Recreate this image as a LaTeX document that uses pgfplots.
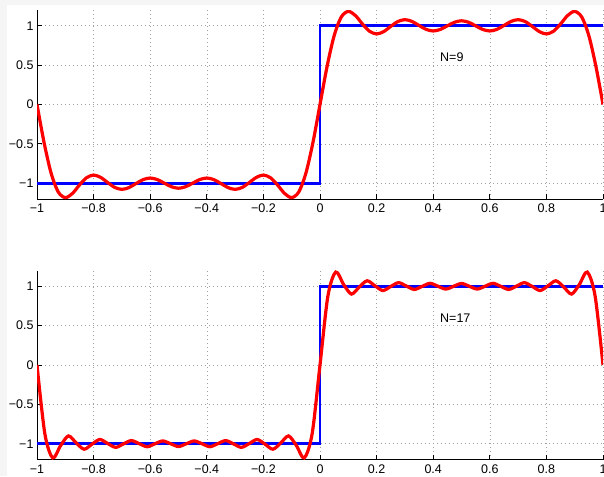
\documentclass[border=0pt]{standalone}
\usepackage{fontspec}
\setmainfont{Liberation Sans}
\usepackage{pgfplots}
\pgfplotsset{compat=1.18}
\pgfplotsset{
  fourier/.style={
    scale only axis, width=566pt, height=189pt,
    xmin=-1, xmax=1, ymin=-1.2, ymax=1.2,
    axis lines*=left,
    xtick={-1,-0.8,-0.6,-0.4,-0.2,0,0.2,0.4,0.6,0.8,1},
    xticklabels={−1,−0.8,−0.6,−0.4,−0.2,0,0.2,0.4,0.6,0.8,1},
    ytick={-1,-0.5,0,0.5,1},
    yticklabels={−1,−0.5,0,0.5,1},
    grid=major,
    grid style={gray!75, line width=0.6pt, dash pattern=on 0.6pt off 3.4pt},
    tick align=inside, major tick length=5pt,
    tick style={black, line width=0.8pt},
    axis line style={black, line width=0.9pt},
    tick label style={font=\fontsize{12.5}{14}\selectfont},
    xticklabel style={yshift=-1.5pt},
    yticklabel style={xshift=0pt},
  }
}
\begin{document}
\begin{tikzpicture}
\fill[black!4] (0pt,0pt) rectangle (604pt,-476pt);
\fill[white] (7pt,-5pt) rectangle (604pt,-476pt);

\begin{axis}[fourier, at={(37pt,-199pt)}, anchor=south west]
\addplot[blue, line width=2.8pt] coordinates {(-1,-1) (0,-1) (0,1) (1,1)};
\addplot[red, line width=3.2pt, smooth] coordinates {
(-1,0) (-0.975,-0.4833) (-0.95,-0.8737) (-0.925,-1.1101) (-0.9,-1.1823) (-0.875,-1.1301) (-0.85,-1.0228) (-0.825,-0.9301) (-0.8,-0.8959) (-0.775,-0.9256) (-0.75,-0.9918) (-0.725,-1.0533) (-0.7,-1.0773) (-0.675,-1.0550) (-0.65,-1.0035) (-0.625,-0.9538) (-0.6,-0.9338) (-0.575,-0.9531) (-0.55,-0.9990) (-0.525,-1.0444) (-0.5,-1.0631) (-0.475,-1.0444) (-0.45,-0.9990) (-0.425,-0.9531) (-0.4,-0.9338) (-0.375,-0.9538) (-0.35,-1.0035) (-0.325,-1.0550) (-0.3,-1.0773) (-0.275,-1.0533) (-0.25,-0.9918) (-0.225,-0.9256) (-0.2,-0.8959) (-0.175,-0.9301) (-0.15,-1.0228) (-0.125,-1.1301) (-0.1,-1.1823) (-0.075,-1.1101) (-0.05,-0.8737) (-0.025,-0.4833) (0,0)
(0.025,0.4833) (0.05,0.8737) (0.075,1.1101) (0.1,1.1823) (0.125,1.1301) (0.15,1.0228) (0.175,0.9301) (0.2,0.8959) (0.225,0.9256) (0.25,0.9918) (0.275,1.0533) (0.3,1.0773) (0.325,1.0550) (0.35,1.0035) (0.375,0.9538) (0.4,0.9338) (0.425,0.9531) (0.45,0.9990) (0.475,1.0444) (0.5,1.0631) (0.525,1.0444) (0.55,0.9990) (0.575,0.9531) (0.6,0.9338) (0.625,0.9538) (0.65,1.0035) (0.675,1.0550) (0.7,1.0773) (0.725,1.0533) (0.75,0.9918) (0.775,0.9256) (0.8,0.8959) (0.825,0.9301) (0.85,1.0228) (0.875,1.1301) (0.9,1.1823) (0.925,1.1101) (0.95,0.8737) (0.975,0.4833) (1,0)
};
\node[anchor=west, inner sep=0pt, font=\fontsize{12.5}{14}\selectfont] at (axis cs:0.424,0.6) {N=9};
\end{axis}

\begin{axis}[fourier, at={(37pt,-459.5pt)}, anchor=south west]
\addplot[blue, line width=2.8pt] coordinates {(-1,-1) (0,-1) (0,1) (1,1)};
\addplot[red, line width=3.2pt, smooth] coordinates {
(-1,0) (-0.97222,-0.8730) (-0.94444,-1.1800) (-0.91667,-1.0236) (-0.88889,-0.9007) (-0.86111,-0.9908) (-0.83333,-1.0694) (-0.80556,-1.0047) (-0.77778,-0.9456) (-0.75,-0.9973) (-0.72222,-1.0458) (-0.69444,-1.0017) (-0.66667,-0.9594) (-0.63889,-0.9990) (-0.61111,-1.0375) (-0.58333,-1.0005) (-0.55556,-0.9642) (-0.52778,-0.9998) (-0.5,-1.0353) (-0.47222,-0.9998) (-0.44444,-0.9642) (-0.41667,-1.0005) (-0.38889,-1.0375) (-0.36111,-0.9990) (-0.33333,-0.9594) (-0.30556,-1.0017) (-0.27778,-1.0458) (-0.25,-0.9973) (-0.22222,-0.9456) (-0.19444,-1.0047) (-0.16667,-1.0694) (-0.13889,-0.9908) (-0.11111,-0.9007) (-0.08333,-1.0236) (-0.05556,-1.1800) (-0.02778,-0.8730) (0,0)
(0.02778,0.8730) (0.05556,1.1800) (0.08333,1.0236) (0.11111,0.9007) (0.13889,0.9908) (0.16667,1.0694) (0.19444,1.0047) (0.22222,0.9456) (0.25,0.9973) (0.27778,1.0458) (0.30556,1.0017) (0.33333,0.9594) (0.36111,0.9990) (0.38889,1.0375) (0.41667,1.0005) (0.44444,0.9642) (0.47222,0.9998) (0.5,1.0353) (0.52778,0.9998) (0.55556,0.9642) (0.58333,1.0005) (0.61111,1.0375) (0.63889,0.9990) (0.66667,0.9594) (0.69444,1.0017) (0.72222,1.0458) (0.75,0.9973) (0.77778,0.9456) (0.80556,1.0047) (0.83333,1.0694) (0.86111,0.9908) (0.88889,0.9007) (0.91667,1.0236) (0.94444,1.1800) (0.97222,0.8730) (1,0)
};
\node[anchor=west, inner sep=0pt, font=\fontsize{12.5}{14}\selectfont] at (axis cs:0.424,0.6) {N=17};
\end{axis}

\pgfresetboundingbox
\useasboundingbox (0pt,0pt) rectangle (604pt,-476pt);
\end{tikzpicture}
\end{document}
